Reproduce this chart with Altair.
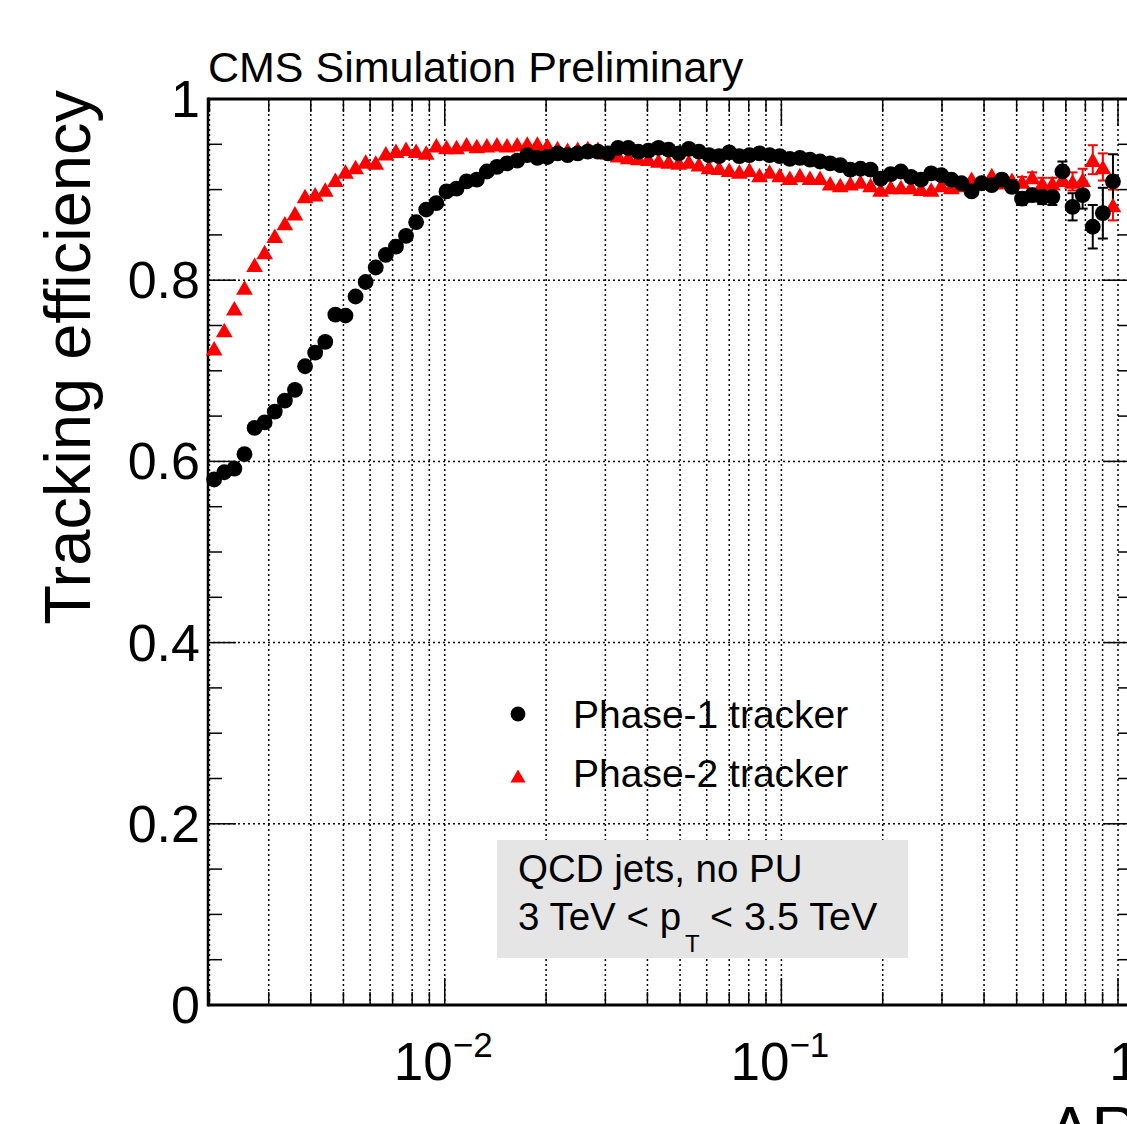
import altair as alt
import pandas as pd

# ---------------- data ----------------
# Delta R bin centres (log-spaced bins)
dr_centers = [
    0.002065, 0.002213, 0.002371, 0.002541, 0.002723, 0.002917, 0.003126, 0.003350,
    0.003589, 0.003846, 0.004121, 0.004416, 0.004732, 0.005070, 0.005433, 0.005821,
    0.006237, 0.006683, 0.007161, 0.007674, 0.008222, 0.008810, 0.009441, 0.01012,
    0.01084, 0.01161, 0.01245, 0.01334, 0.01429, 0.01531, 0.01641, 0.01758,
    0.01884, 0.02018, 0.02163, 0.02317, 0.02483, 0.02661, 0.02851, 0.03055,
    0.03273, 0.03508, 0.03758, 0.04027, 0.04315, 0.04624, 0.04955, 0.05309,
    0.05689, 0.06095, 0.06531, 0.06998, 0.07499, 0.08035, 0.08610, 0.09226,
    0.09886, 0.1059, 0.1135, 0.1216, 0.1303, 0.1396, 0.1496, 0.1603,
    0.1718, 0.1841, 0.1972, 0.2113, 0.2265, 0.2427, 0.2600, 0.2786,
    0.2985, 0.3199, 0.3428, 0.3673, 0.3936, 0.4217, 0.4519, 0.4842,
    0.5188, 0.5559, 0.5957, 0.6383, 0.6839, 0.7328, 0.7852, 0.8414,
    0.9016, 0.9661,
]

phase1_eff = [
    0.580, 0.588, 0.592, 0.608, 0.637, 0.643, 0.655, 0.667, 0.679, 0.705,
    0.720, 0.732, 0.762, 0.761, 0.782, 0.798, 0.814, 0.828, 0.837, 0.849,
    0.864, 0.878, 0.885, 0.898, 0.901, 0.909, 0.911, 0.920, 0.925, 0.929,
    0.932, 0.938, 0.935, 0.936, 0.940, 0.938, 0.940, 0.942, 0.942, 0.940,
    0.946, 0.946, 0.942, 0.943, 0.946, 0.944, 0.940, 0.945, 0.942, 0.938,
    0.937, 0.941, 0.937, 0.938, 0.940, 0.938, 0.937, 0.934, 0.935, 0.933,
    0.931, 0.929, 0.927, 0.922, 0.923, 0.922, 0.912, 0.917, 0.920, 0.914,
    0.911, 0.918, 0.916, 0.911, 0.907, 0.898, 0.907, 0.905, 0.911, 0.903,
    0.890, 0.894, 0.892, 0.892, 0.920, 0.881, 0.894, 0.859, 0.874, 0.909,
]

phase2_eff = [
    0.725, 0.745, 0.769, 0.792, 0.817, 0.831, 0.849, 0.863, 0.874, 0.893,
    0.895, 0.900, 0.911, 0.920, 0.925, 0.931, 0.930, 0.940, 0.943, 0.945,
    0.943, 0.941, 0.949, 0.947, 0.947, 0.950, 0.948, 0.949, 0.950, 0.949,
    0.950, 0.951, 0.951, 0.949, 0.946, 0.944, 0.945, 0.946, 0.945, 0.941,
    0.938, 0.936, 0.935, 0.934, 0.932, 0.931, 0.930, 0.931, 0.928, 0.925,
    0.924, 0.922, 0.920, 0.922, 0.916, 0.920, 0.916, 0.913, 0.916, 0.913,
    0.913, 0.907, 0.905, 0.907, 0.909, 0.905, 0.900, 0.903, 0.903, 0.903,
    0.901, 0.900, 0.905, 0.903, 0.905, 0.912, 0.908, 0.916, 0.908, 0.911,
    0.909, 0.914, 0.907, 0.907, 0.912, 0.909, 0.911, 0.933, 0.925, 0.883,
]

# statistical uncertainties of the last bins (smaller ones are hidden by markers)
phase1_err_tail = [0.006, 0.006, 0.007, 0.007, 0.008, 0.009, 0.011, 0.015, 0.015, 0.024, 0.028, 0.030]
phase2_err_tail = [0.005, 0.005, 0.006, 0.006, 0.008, 0.010, 0.012, 0.016, 0.015, 0.017]

x_major_ticks = [0.01, 0.1, 1.0]
x_minor_ticks = [0.002, 0.003, 0.004, 0.005, 0.006, 0.007, 0.008, 0.009,
                 0.02, 0.03, 0.04, 0.05, 0.06, 0.07, 0.08, 0.09,
                 0.2, 0.3, 0.4, 0.5, 0.6, 0.7, 0.8, 0.9]
y_major_ticks = [0.0, 0.2, 0.4, 0.6, 0.8, 1.0]
y_major_labels = ["0", "0.2", "0.4", "0.6", "0.8", "1"]
y_minor_ticks = [0.05, 0.1, 0.15, 0.25, 0.3, 0.35, 0.45, 0.5, 0.55,
                 0.65, 0.7, 0.75, 0.85, 0.9, 0.95]

decade_label_pos = [0.01, 0.1]
decade_label_base = ["10", "10"]
decade_label_exp = ["\u22122", "\u22121"]
unit_label_pos = [1.0]
unit_label_text = ["1"]

title_text = "CMS Simulation Preliminary"
y_title_text = "Tracking efficiency"
x_title_text = "\u0394R"
legend_labels = ["Phase-1 tracker", "Phase-2 tracker"]
info_line1 = "QCD jets, no PU"
info_line2a = "3 TeV < p"
info_line2_sub = "T"
info_line2b = "< 3.5 TeV"

# ---------------- layout ----------------
W, H = 919, 906
FONT = "Liberation Sans"
xs = alt.Scale(type="log", domain=[0.00198, 1.0635], nice=False)
ys = alt.Scale(domain=[0, 1], nice=False, zero=False)

p1 = pd.DataFrame({"x": dr_centers, "y": phase1_eff})
p2 = pd.DataFrame({"x": dr_centers, "y": phase2_eff})
e1 = pd.DataFrame({"x": dr_centers[-len(phase1_err_tail):],
                   "y": phase1_eff[-len(phase1_err_tail):],
                   "e": phase1_err_tail})
e1["lo"] = e1["y"] - e1["e"]
e1["hi"] = e1["y"] + e1["e"]
e2 = pd.DataFrame({"x": dr_centers[-len(phase2_err_tail):],
                   "y": phase2_eff[-len(phase2_err_tail):],
                   "e": phase2_err_tail})
e2["lo"] = e2["y"] - e2["e"]
e2["hi"] = e2["y"] + e2["e"]

xgrid = pd.DataFrame({"x": x_minor_ticks + x_major_ticks})
xmaj = pd.DataFrame({"x": x_major_ticks})
xmin = pd.DataFrame({"x": x_minor_ticks})
ymaj = pd.DataFrame({"y": y_major_ticks, "lab": y_major_labels})
ymin = pd.DataFrame({"y": y_minor_ticks})

X = lambda f="x": alt.X(f"{f}:Q", scale=xs, axis=None)
Y = lambda f="y": alt.Y(f"{f}:Q", scale=ys, axis=None)

dot = dict(color="black", strokeWidth=1.5, strokeDash=[2, 3])

layers = []

# grid
layers.append(alt.Chart(xgrid).mark_rule(**dot).encode(x=X(), y=alt.value(0), y2=alt.value(H)))
layers.append(alt.Chart(ymaj).mark_rule(**dot).encode(y=Y(), x=alt.value(0), x2=alt.value(W)))

# info box
box = alt.Data(values=[{"a": info_line1}])
layers.append(alt.Chart(box).mark_rect(color="#e5e5e5").encode(
    x=alt.value(289), x2=alt.value(700), y=alt.value(741), y2=alt.value(859)))

# ticks (inward)
for df, ln in ((xmaj, 27), (xmin, 13)):
    layers.append(alt.Chart(df).mark_rule(color="black", strokeWidth=1.5).encode(
        x=X(), y=alt.value(H), y2=alt.value(H - ln)))
    layers.append(alt.Chart(df).mark_rule(color="black", strokeWidth=1.5).encode(
        x=X(), y=alt.value(0), y2=alt.value(ln)))
for df, ln in ((ymaj, 28), (ymin, 14)):
    layers.append(alt.Chart(df).mark_rule(color="black", strokeWidth=1.5).encode(
        y=Y(), x=alt.value(0), x2=alt.value(ln)))
    layers.append(alt.Chart(df).mark_rule(color="black", strokeWidth=1.5).encode(
        y=Y(), x=alt.value(W + 5), x2=alt.value(W + 5 - ln)))

# frame
one = alt.Data(values=[{"k": 1}])
layers.append(alt.Chart(one).mark_rule(color="black", strokeWidth=3).encode(
    x=alt.value(0), x2=alt.value(W + 10), y=alt.value(H)))
layers.append(alt.Chart(one).mark_rule(color="black", strokeWidth=3).encode(
    x=alt.value(0), x2=alt.value(W + 10), y=alt.value(0)))
layers.append(alt.Chart(one).mark_rule(color="black", strokeWidth=2.5).encode(
    x=alt.value(0), y=alt.value(-1.5), y2=alt.value(H + 1.5)))

# error bars
for df, col in ((e2, "#ff0000"), (e1, "black")):
    layers.append(alt.Chart(df).mark_rule(color=col, strokeWidth=2).encode(
        x=X(), y=Y("lo"), y2="hi:Q"))
    for f in ("lo", "hi"):
        layers.append(alt.Chart(df).mark_tick(color=col, orient="horizontal", size=10,
                                              thickness=2, opacity=1).encode(x=X(), y=Y(f)))

# markers
layers.append(alt.Chart(p2).mark_point(shape="triangle-up", filled=True, color="#ff0000",
                                       size=280, opacity=1).encode(x=X(), y=Y()))
layers.append(alt.Chart(p1).mark_point(shape="circle", filled=True, color="black",
                                       size=250, opacity=1).encode(x=X(), y=Y()))

# y tick labels
layers.append(alt.Chart(ymaj).mark_text(font=FONT, fontSize=52, align="right", baseline="alphabetic",
                                        dy=18, color="black").encode(
    y=Y(), x=alt.value(-8), text="lab:N"))

# x tick labels
dl = pd.DataFrame({"x": decade_label_pos, "b": decade_label_base, "e": decade_label_exp})
layers.append(alt.Chart(dl).mark_text(font=FONT, fontSize=53, align="right", baseline="alphabetic",
                                      dx=8, color="black").encode(x=X(), y=alt.value(981), text="b:N"))
layers.append(alt.Chart(dl).mark_text(font=FONT, fontSize=35, align="left", baseline="alphabetic",
                                      dx=8, color="black").encode(x=X(), y=alt.value(958), text="e:N"))
ul = pd.DataFrame({"x": unit_label_pos, "t": unit_label_text})
layers.append(alt.Chart(ul).mark_text(font=FONT, fontSize=53, align="center", baseline="alphabetic",
                                      dx=6, color="black").encode(x=X(), y=alt.value(981), text="t:N"))


def label(txt, x, y, size, **kw):
    d = alt.Data(values=[{"t": txt}])
    return alt.Chart(d).mark_text(font=FONT, fontSize=size, baseline="alphabetic",
                                  color="black", **kw).encode(
        x=alt.value(x), y=alt.value(y), text="t:N")


layers.append(label(title_text, 0, -17, 43, align="left"))
layers.append(label(y_title_text, -118, -9, 65, align="right", angle=270))
layers.append(label(x_title_text, 840, 1053, 65, align="left"))

# legend
lg = alt.Data(values=[{"k": 1}])
layers.append(alt.Chart(lg).mark_point(shape="circle", filled=True, color="black", size=220,
                                       opacity=1).encode(x=alt.value(310), y=alt.value(615)))
layers.append(alt.Chart(lg).mark_point(shape="triangle-up", filled=True, color="#ff0000", size=230,
                                       opacity=1).encode(x=alt.value(310), y=alt.value(677)))
layers.append(label(legend_labels[0], 365, 629, 39, align="left"))
layers.append(label(legend_labels[1], 365, 688, 39, align="left"))

# info text
layers.append(label(info_line1, 310, 783, 38.5, align="left"))
layers.append(label(info_line2a, 310, 831, 38.5, align="left"))
layers.append(label(info_line2_sub, 477, 853, 24, align="left"))
layers.append(label(info_line2b, 502, 831, 39.5, align="left"))

chart = alt.layer(*layers).properties(
    width=W, height=H,
    autosize=alt.AutoSizeParams(type="none"),
    padding={"left": 208, "top": 99, "right": 0, "bottom": 119},
    background="white",
).configure_view(stroke=None)

chart.save("out.html", embed_options={"renderer": "svg", "actions": False})
